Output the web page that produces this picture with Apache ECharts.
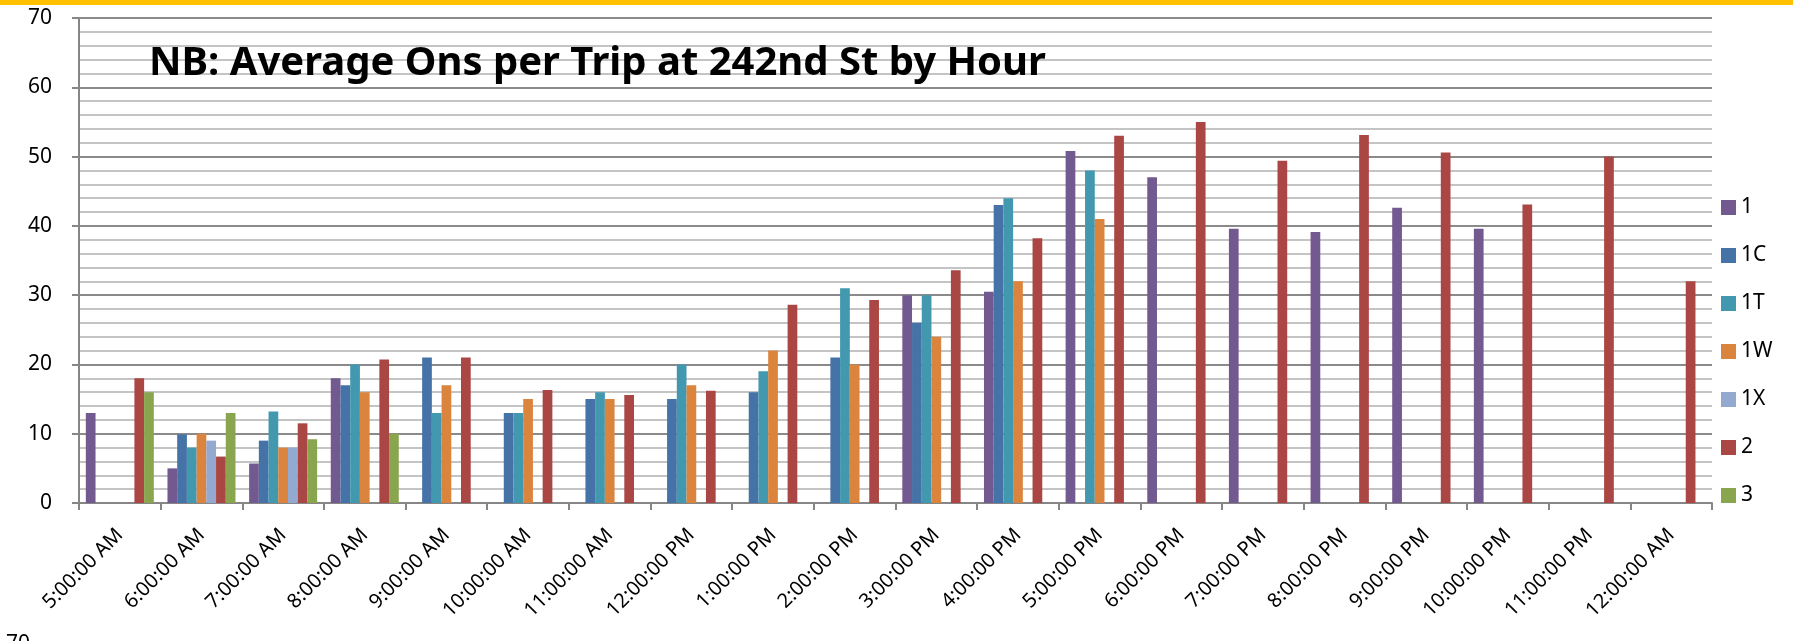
<!DOCTYPE html>
<html>
<head>
<meta charset="utf-8">
<script src="https://cdn.jsdelivr.net/npm/echarts@6/dist/echarts.min.js"></script>
<style>
  html, body { margin: 0; padding: 0; background: #fff; }
  #main { width: 1793px; height: 641px; }
</style>
</head>
<body>
<div id="main"></div>
<script>
// hours along the x axis
var hours = ['5:00:00 AM', '6:00:00 AM', '7:00:00 AM', '8:00:00 AM', '9:00:00 AM',
  '10:00:00 AM', '11:00:00 AM', '12:00:00 PM', '1:00:00 PM', '2:00:00 PM',
  '3:00:00 PM', '4:00:00 PM', '5:00:00 PM', '6:00:00 PM', '7:00:00 PM',
  '8:00:00 PM', '9:00:00 PM', '10:00:00 PM', '11:00:00 PM', '12:00:00 AM'];

// average ons per trip, one array per route
var route1  = [13, 5, 5.7, 18, null, null, null, null, null, null, 30, 30.5, 50.8, 47, 39.6, 39.1, 42.6, 39.6, null, null];
var route1C = [null, 9.9, 9, 17, 21, 13, 15, 15, 16, 21, 26, 43, null, null, null, null, null, null, null, null];
var route1T = [null, 8, 13.2, 20, 13, 13, 16, 20, 19, 31, 30, 44, 48, null, null, null, null, null, null, null];
var route1W = [null, 10, 8, 16, 17, 15, 15, 17, 22, 20, 24, 32, 41, null, null, null, null, null, null, null];
var route1X = [null, 9, 8, null, null, null, null, null, null, null, null, null, null, null, null, null, null, null, null, null];
var route2  = [18, 6.7, 11.5, 20.7, 21, 16.3, 15.6, 16.2, 28.6, 29.3, 33.6, 38.2, 53, 55, 49.4, 53.1, 50.6, 43.1, 50, 32];
var route3  = [16, 13, 9.2, 10, null, null, null, null, null, null, null, null, null, null, null, null, null, null, null, null];

var routeNames = ['1', '1C', '1T', '1W', '1X', '2', '3'];
var routeData = [route1, route1C, route1T, route1W, route1X, route2, route3];
var colors = ['#72598F', '#4572A7', '#4198AF', '#DB843D', '#93A9CF', '#AA4643', '#89A54E'];

var font = 'Noto Sans';

var myChart = echarts.init(document.getElementById('main'));

var series = routeNames.map(function (name, i) {
  return {
    name: name,
    type: 'bar',
    data: routeData[i],
    barGap: '0%',
    barCategoryGap: '16.7%',
    itemStyle: { color: colors[i] }
  };
});

var option = {
  animation: false,
  color: colors,
  title: {
    text: 'NB: Average Ons per Trip at 242nd St by Hour',
    left: 144,
    top: 39,
    textStyle: { fontFamily: font, fontSize: 40, fontWeight: 'bold', color: '#000' }
  },
  graphic: [
    { type: 'rect', left: 0, top: 0, shape: { width: 1793, height: 5 }, style: { fill: '#FFC000' } },
    { type: 'text', left: 6, top: 634, style: { text: '70', fontFamily: font, fontSize: 21, fill: '#000' } }
  ],
  legend: {
    orient: 'vertical',
    left: 1716,
    top: 192,
    itemWidth: 15,
    itemHeight: 15,
    itemGap: 27,
    icon: 'rect',
    data: routeNames,
    textStyle: { fontFamily: font, fontSize: 21, lineHeight: 21, color: '#000' }
  },
  grid: { left: 79, right: 81, top: 18, bottom: 138 },
  xAxis: {
    type: 'category',
    data: hours,
    axisLine: { lineStyle: { color: '#868686', width: 2 } },
    axisTick: { show: true, length: 7, lineStyle: { color: '#868686', width: 2 } },
    axisLabel: { interval: 0, rotate: 45, margin: 29, fontFamily: font, fontSize: 20, color: '#000' }
  },
  yAxis: {
    type: 'value',
    min: 0,
    max: 70,
    interval: 10,
    axisLine: { show: true, lineStyle: { color: '#868686', width: 2 } },
    axisTick: { show: true, length: 7, lineStyle: { color: '#868686', width: 2 } },
    axisLabel: { margin: 27, fontFamily: font, fontSize: 21, color: '#000' },
    splitLine: { lineStyle: { color: '#8a8a8a', width: 2 } },
    minorTick: { show: false, splitNumber: 5 },
    minorSplitLine: { show: true, lineStyle: { color: '#c4c4c4', width: 2 } }
  },
  series: series
};

myChart.setOption(option);
</script>
</body>
</html>
